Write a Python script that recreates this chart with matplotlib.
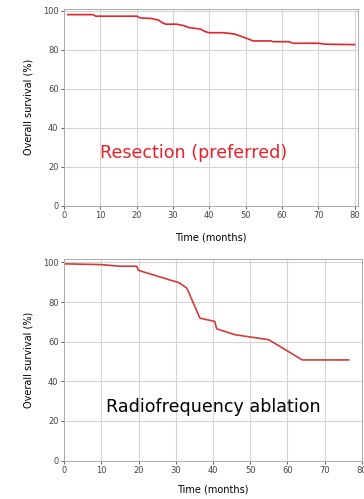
import matplotlib.pyplot as plt

# Kaplan-Meier style curves
resection_t = [1, 8, 8.7, 20, 21, 24, 26, 27, 28, 31, 33, 34.5, 37.5, 39, 40, 44, 47, 49, 51, 52,
               57, 57.5, 62, 63, 70, 72, 80]
resection_os = [98.1, 98.1, 97.3, 97.3, 96.4, 96.1, 95.3, 94.0, 93.2, 93.2, 92.4, 91.4, 90.7, 89.3,
                88.8, 88.8, 88.1, 86.8, 85.4, 84.6, 84.6, 84.2, 84.2, 83.4, 83.4, 82.9, 82.7]

rfa_t = [0, 10, 15, 19.5, 20, 31, 33, 36.5, 40.5, 41, 46, 55, 64, 76.5]
rfa_os = [99.3, 98.9, 98.1, 98.1, 96.0, 89.7, 87.0, 71.9, 70.2, 66.5, 63.5, 61.0, 50.8, 50.8]

x_ticks = [0, 10, 20, 30, 40, 50, 60, 70, 80]
y_ticks = [0, 20, 40, 60, 80, 100]

fig = plt.figure(figsize=(3.64, 4.99), dpi=100)
ax1 = fig.add_axes([0.176, 0.588, 0.808, 0.394])
ax2 = fig.add_axes([0.176, 0.077, 0.818, 0.403])


def style(ax, xmax, ymax, xpad):
    ax.set_xlim(0, xmax)
    ax.set_ylim(0, ymax)
    ax.set_xticks(x_ticks)
    ax.set_yticks(y_ticks)
    ax.grid(True, color="#d4d4d4", linewidth=0.8)
    ax.set_axisbelow(True)
    ax.tick_params(labelsize=6, colors="#444444", length=2, width=0.6, pad=2)
    for s in ax.spines.values():
        s.set_color("#aaaaaa")
        s.set_linewidth(0.7)
    ax.set_xlabel("Time (months)", fontsize=7, labelpad=xpad)
    ax.set_ylabel("Overall survival (%)", fontsize=7, labelpad=7)


ax1.plot(resection_t, resection_os, color="#e0262c", linewidth=1.2)
style(ax1, 81, 101, 9)
ax1.text(9.8, 27, "Resection (preferred)", color="#e8202a", fontsize=12.6, va="center")

ax2.plot(rfa_t, rfa_os, color="#d63a3a", linewidth=1.2)
style(ax2, 80, 101.5, 7)
ax2.text(11.4, 27, "Radiofrequency ablation", color="black", fontsize=12.6, va="center")

fig.savefig("out.png", dpi=100)
